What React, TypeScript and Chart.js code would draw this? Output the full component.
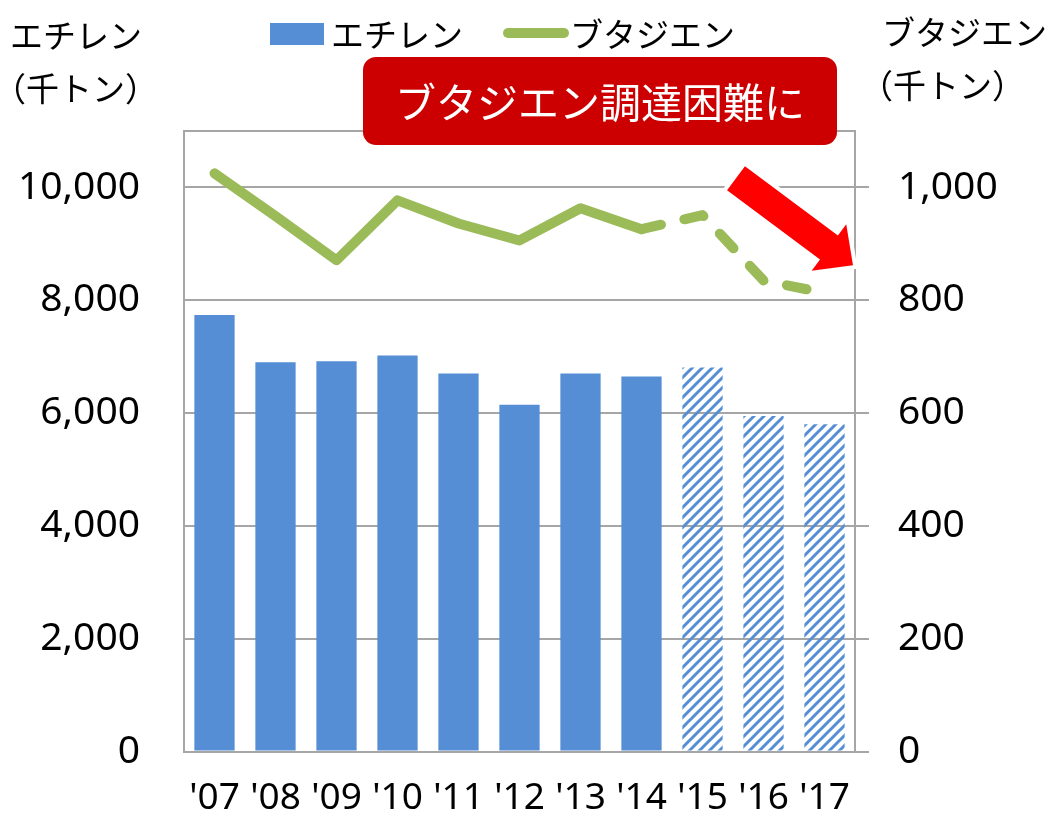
import React, { useEffect, useRef } from 'react';
import { Chart, registerables } from 'chart.js';

Chart.register(...registerables);

// ---- data ----
const categories = ["'07", "'08", "'09", "'10", "'11", "'12", "'13", "'14", "'15", "'16", "'17"];
const ethylene = [7740, 6900, 6920, 7020, 6700, 6150, 6700, 6650, 6810, 5950, 5800];
const butadiene = [1025, 949, 871, 977, 936, 906, 963, 926, 951, 835, 813];
const forecastStartIndex = 8; // '15 onwards are estimates (hatched / dashed)
const leftTicks = [0, 2000, 4000, 6000, 8000, 10000, 11000];
const rightTicks = [0, 200, 400, 600, 800, 1000, 1100];
const leftMax = 11000;
const rightMax = 1100;

const seriesNames = ['エチレン', 'ブタジエン'];
const leftTitle = ['エチレン', '（千トン）'];
const rightTitle = ['ブタジエン', '（千トン）'];
const calloutText = 'ブタジエン調達困難に';

// ---- styles ----
const BLUE = '#558ED5';
const GREEN = '#9BBB59';
const GRID = '#A6A6A6';
const RED_BOX = '#CC0000';
const RED_ARROW = '#FF0000';
const NUM_FONT = "'Noto Sans', 'Open Sans', sans-serif";
const JP_FONT = "'Noto Sans CJK JP', 'Noto Sans', sans-serif";

function makeHatch(ctx: CanvasRenderingContext2D, color: string) {
  const c = document.createElement('canvas');
  c.width = 10;
  c.height = 10;
  const g = c.getContext('2d')!;
  g.strokeStyle = color;
  g.lineWidth = 3;
  g.beginPath();
  g.moveTo(-2, 12);
  g.lineTo(12, -2);
  g.moveTo(-2, 2);
  g.lineTo(2, -2);
  g.moveTo(8, 12);
  g.lineTo(12, 8);
  g.stroke();
  return ctx.createPattern(c, 'repeat');
}

const decorPlugin = {
  id: 'decor',
  afterDraw(chart: any) {
    const ctx: CanvasRenderingContext2D = chart.ctx;
    const area = chart.chartArea;
    const yR = chart.scales.y1;
    ctx.save();

    // axis titles
    ctx.fillStyle = '#000';
    ctx.textBaseline = 'middle';
    ctx.textAlign = 'left';
    ctx.font = `33px ${JP_FONT}`;
    ctx.fillText(leftTitle[0], 10, 35);
    ctx.fillText(leftTitle[1], -7, 88);
    ctx.fillText(rightTitle[0], 882, 32);
    ctx.fillText(rightTitle[1], 860, 85);

    // legend
    ctx.fillStyle = BLUE;
    ctx.fillRect(270, 23, 54, 22);
    ctx.fillStyle = '#000';
    ctx.fillText(seriesNames[0], 331, 34);
    ctx.strokeStyle = GREEN;
    ctx.lineWidth = 10;
    ctx.lineCap = 'round';
    ctx.beginPath();
    ctx.moveTo(508, 33);
    ctx.lineTo(564, 33);
    ctx.stroke();
    ctx.fillText(seriesNames[1], 570, 34);

    // callout box
    const bx = 363, by = 57, bw = 474, bh = 88, r = 13;
    ctx.fillStyle = RED_BOX;
    ctx.beginPath();
    ctx.moveTo(bx + r, by);
    ctx.arcTo(bx + bw, by, bx + bw, by + bh, r);
    ctx.arcTo(bx + bw, by + bh, bx, by + bh, r);
    ctx.arcTo(bx, by + bh, bx, by, r);
    ctx.arcTo(bx, by, bx + bw, by, r);
    ctx.closePath();
    ctx.fill();
    ctx.fillStyle = '#fff';
    ctx.textAlign = 'center';
    ctx.font = `41px ${JP_FONT}`;
    ctx.fillText(calloutText, bx + bw / 2, by + bh / 2 + 1);

    // arrow (anchored to the right axis)
    const tipX = area.right - 2;
    const tipY = yR.getPixelForValue(862);
    const L = 146, headLen = 30, shaftHalf = 15, headHalf = 29;
    const ux = 117 / 146, uy = 87 / 146;
    const nx = -uy, ny = ux;
    const tx = tipX - L * ux, ty = tipY - L * uy;
    const bxA = tipX - headLen * ux, byA = tipY - headLen * uy;
    const pts = [
      [tx + shaftHalf * nx, ty + shaftHalf * ny],
      [bxA + shaftHalf * nx, byA + shaftHalf * ny],
      [bxA + headHalf * nx, byA + headHalf * ny],
      [tipX, tipY],
      [bxA - headHalf * nx, byA - headHalf * ny],
      [bxA - shaftHalf * nx, byA - shaftHalf * ny],
      [tx - shaftHalf * nx, ty - shaftHalf * ny],
    ];
    ctx.beginPath();
    pts.forEach(([px, py], i) => (i ? ctx.lineTo(px, py) : ctx.moveTo(px, py)));
    ctx.closePath();
    ctx.lineJoin = 'miter';
    ctx.strokeStyle = '#fff';
    ctx.lineWidth = 8;
    ctx.stroke();
    ctx.fillStyle = RED_ARROW;
    ctx.fill();

    ctx.restore();
  },
};

export default function App() {
  const ref = useRef<HTMLCanvasElement>(null);

  useEffect(() => {
    document.body.style.margin = '0';
    document.body.style.overflow = 'hidden';
    const canvas = ref.current!;
    const ctx = canvas.getContext('2d')!;
    const hatch = makeHatch(ctx, BLUE);
    const barColors = ethylene.map((_, i) => (i >= forecastStartIndex ? hatch : BLUE));

    const chart = new Chart(ctx, {
      type: 'bar',
      data: {
        labels: categories,
        datasets: [
          {
            type: 'line',
            label: seriesNames[1],
            data: butadiene,
            yAxisID: 'y1',
            borderColor: GREEN,
            backgroundColor: GREEN,
            borderWidth: 10,
            borderCapStyle: 'round',
            borderJoinStyle: 'round',
            pointRadius: 0,
            tension: 0,
            order: 0,
            segment: {
              borderDash: (c: any) => (c.p0DataIndex >= forecastStartIndex - 1 ? [20, 24] : undefined),
            },
          } as any,
          {
            type: 'bar',
            label: seriesNames[0],
            data: ethylene,
            yAxisID: 'y',
            backgroundColor: barColors as any,
            borderWidth: 0,
            barPercentage: 0.66,
            categoryPercentage: 1,
            order: 1,
          },
        ],
      },
      options: {
        responsive: false,
        animation: false,
        layout: { padding: { top: 131, left: 0, right: 0, bottom: 0 } },
        plugins: { legend: { display: false }, tooltip: { enabled: false } },
        scales: {
          x: {
            grid: { display: false },
            border: { display: true, color: GRID, width: 2 },
            ticks: {
              color: '#000',
              font: { family: NUM_FONT, size: 37 },
              padding: 17,
              maxRotation: 0,
              autoSkip: false,
            },
            afterFit: (s: any) => {
              s.height = 65;
            },
          },
          y: {
            position: 'left',
            min: 0,
            max: leftMax,
            afterBuildTicks: (s: any) => {
              s.ticks = leftTicks.map((v) => ({ value: v }));
            },
            grid: { color: GRID, lineWidth: 2, drawTicks: false },
            border: { display: true, color: GRID, width: 2 },
            ticks: {
              color: '#000',
              font: { family: NUM_FONT, size: 39 },
              padding: 44,
              callback: (v: any) => (v === leftMax ? '' : Number(v).toLocaleString('en-US')),
            },
            afterFit: (s: any) => {
              s.width = 184;
            },
          },
          y1: {
            position: 'right',
            min: 0,
            max: rightMax,
            afterBuildTicks: (s: any) => {
              s.ticks = rightTicks.map((v) => ({ value: v }));
            },
            grid: {
              drawOnChartArea: false,
              drawTicks: true,
              tickLength: 14,
              lineWidth: 2,
              color: (c: any) => (c.tick && c.tick.value === rightMax ? 'rgba(0,0,0,0)' : GRID),
            },
            border: { display: true, color: GRID, width: 2 },
            ticks: {
              color: '#000',
              font: { family: NUM_FONT, size: 39 },
              padding: 29,
              callback: (v: any) => (v === rightMax ? '' : Number(v).toLocaleString('en-US')),
            },
            afterFit: (s: any) => {
              s.width = 196;
            },
          },
        },
      },
      plugins: [decorPlugin],
    });
    return () => chart.destroy();
  }, []);

  return <canvas ref={ref} width={1051} height={819} style={{ display: 'block' }} />;
}
